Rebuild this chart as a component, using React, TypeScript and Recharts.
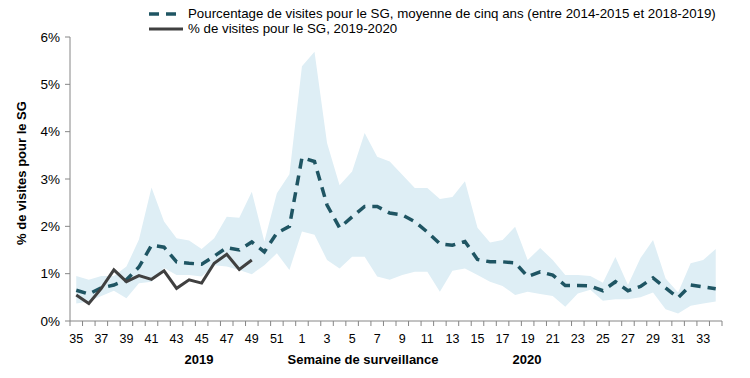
import React from "react";
import { ComposedChart, Area, Line, XAxis, YAxis } from "recharts";

const weeks = [
  "35", "36", "37", "38", "39", "40", "41", "42", "43", "44", "45", "46", "47", "48", "49", "50", "51", "52",
  "1", "2", "3", "4", "5", "6", "7", "8", "9", "10", "11", "12", "13", "14", "15", "16", "17",
  "18", "19", "20", "21", "22", "23", "24", "25", "26", "27", "28", "29", "30", "31", "32", "33", "34",
];

// moyenne de cinq ans (2014-2015 à 2018-2019)
const fiveYearAvg = [
  0.65, 0.57, 0.7, 0.76, 0.87, 1.14, 1.6, 1.56, 1.25, 1.22, 1.2, 1.37, 1.55, 1.5, 1.67, 1.46, 1.86, 2.0,
  3.45, 3.37, 2.45, 1.97, 2.2, 2.42, 2.42, 2.28, 2.24, 2.1, 1.88, 1.63, 1.6, 1.68, 1.3, 1.25, 1.25,
  1.23, 0.94, 1.04, 0.97, 0.75, 0.75, 0.74, 0.64, 0.83, 0.64, 0.73, 0.91, 0.7, 0.49, 0.76, 0.72, 0.68,
];

const rangeHigh = [
  0.95, 0.87, 0.95, 0.95, 1.15, 1.72, 2.82, 2.1, 1.75, 1.7, 1.52, 1.75, 2.2, 2.18, 2.73, 1.68, 2.7, 3.1,
  5.38, 5.69, 3.76, 2.87, 3.16, 3.97, 3.47, 3.37, 3.09, 2.81, 2.81, 2.58, 2.62, 2.95, 1.97, 1.66, 1.71,
  1.99, 1.29, 1.54, 1.29, 0.97, 0.97, 0.95, 0.81, 1.35, 0.76, 1.33, 1.71, 0.9, 0.6, 1.22, 1.29, 1.52,
];

const rangeLow = [
  0.37, 0.41, 0.53, 0.64, 0.48, 0.8, 0.83, 1.12, 0.97, 0.97, 0.94, 1.18, 1.15, 1.08, 0.99, 1.18, 1.43, 1.08,
  1.89, 1.82, 1.29, 1.11, 1.36, 1.36, 0.94, 0.87, 0.97, 1.04, 1.04, 0.62, 1.06, 1.11, 0.97, 0.83, 0.74,
  0.55, 0.62, 0.57, 0.53, 0.3, 0.58, 0.66, 0.43, 0.46, 0.46, 0.5, 0.6, 0.25, 0.16, 0.32, 0.37, 0.41,
];

// saison 2019-2020 (semaines 35 à 49)
const season2019 = [0.55, 0.37, 0.69, 1.08, 0.83, 0.96, 0.88, 1.06, 0.69, 0.87, 0.8, 1.22, 1.41, 1.09, 1.29];

const yTicks = [0, 1, 2, 3, 4, 5, 6];

const data = weeks.map((w, i) => ({
  week: w,
  avg: fiveYearAvg[i],
  low: rangeLow[i],
  high: rangeHigh[i],
  cur: i < season2019.length ? season2019[i] : null,
}));

const FONT = "'Liberation Sans', Arial, sans-serif";
const W = 750;
const H = 378;
const margin = { top: 37, right: 28, bottom: 10, left: 10 };
const Y_AXIS_W = 60;
const PLOT_W = W - margin.left - margin.right - Y_AXIS_W;
const HALF_BAND = PLOT_W / weeks.length / 2;

const AVG_COLOR = "#1f5563";
const CUR_COLOR = "#404040";
const BAND_COLOR = "#deeef5";

function WeekTick(props: any) {
  const { x, y, index } = props;
  const last = index === weeks.length - 1;
  return (
    <g>
      <line x1={x - HALF_BAND} x2={x - HALF_BAND} y1={y} y2={y + 5} stroke="#868686" />
      {last && <line x1={x + HALF_BAND} x2={x + HALF_BAND} y1={y} y2={y + 5} stroke="#868686" />}
      {index % 2 === 0 && (
        <text x={x} y={y + 22} textAnchor="middle" fontSize={12.5} fontFamily={FONT} fill="#000">
          {props.payload.value}
        </text>
      )}
    </g>
  );
}

function BottomLabels(props: any) {
  const { viewBox } = props;
  const y = viewBox.y + 43;
  const s = { fontSize: 13, fontWeight: 700, fontFamily: FONT, fill: "#000" } as const;
  return (
    <g>
      <text x={199} y={y} textAnchor="middle" {...s}>2019</text>
      <text x={363} y={y} textAnchor="middle" {...s}>Semaine de surveillance</text>
      <text x={527} y={y} textAnchor="middle" {...s}>2020</text>
    </g>
  );
}

function YLabel(props: any) {
  const { viewBox } = props;
  const cy = viewBox.y + viewBox.height / 2 - 6;
  return (
    <text
      x={21}
      y={cy}
      transform={`rotate(-90, 21, ${cy})`}
      textAnchor="middle"
      dominantBaseline="central"
      fontSize={13}
      fontWeight={700}
      fontFamily={FONT}
      fill="#000"
    >
      % de visites pour le SG
    </text>
  );
}

function Legend() {
  const row = { display: "flex", alignItems: "center", height: 15 } as const;
  return (
    <div
      style={{
        position: "absolute",
        left: 148,
        top: 6,
        fontFamily: FONT,
        fontSize: 13.3,
        color: "#000",
        lineHeight: "15px",
        whiteSpace: "nowrap",
      }}
    >
      <div style={row}>
        <svg width={38} height={15}>
          <line x1={1} x2={35} y1={8} y2={8} stroke={AVG_COLOR} strokeWidth={3.5} strokeDasharray="10 7" />
        </svg>
        <span style={{ marginLeft: 2 }}>
          Pourcentage de visites pour le SG, moyenne de cinq ans (entre 2014-2015 et 2018-2019)
        </span>
      </div>
      <div style={row}>
        <svg width={38} height={15}>
          <line x1={1} x2={35} y1={8} y2={8} stroke={CUR_COLOR} strokeWidth={3} />
        </svg>
        <span style={{ marginLeft: 2 }}>% de visites pour le SG, 2019-2020</span>
      </div>
    </div>
  );
}

export default function App() {
  return (
    <div style={{ position: "absolute", left: 0, top: 0, width: W, height: H, background: "#fff" }}>
      <ComposedChart width={W} height={H} data={data} margin={margin}>
        <XAxis
          dataKey="week"
          scale="band"
          interval={0}
          tickLine={false}
          tickSize={0}
          tickMargin={0}
          stroke="#868686"
          height={H - 321 - margin.bottom}
          tick={<WeekTick />}
          label={<BottomLabels />}
        />
        <YAxis
          width={Y_AXIS_W}
          domain={[0, 6]}
          ticks={yTicks}
          tickFormatter={(v: number) => `${v}%`}
          stroke="#868686"
          tickSize={5}
          tickMargin={5}
          tick={{ fontSize: 13.5, fill: "#000", fontFamily: FONT }}
          label={<YLabel />}
        />
        <Area
          dataKey={(d: any) => [d.low, d.high]}
          stroke="none"
          fill={BAND_COLOR}
          fillOpacity={1}
          type="linear"
          isAnimationActive={false}
          activeDot={false}
        />
        <Line
          dataKey="avg"
          type="linear"
          stroke={AVG_COLOR}
          strokeWidth={3.5}
          strokeDasharray="10 7"
          dot={false}
          activeDot={false}
          isAnimationActive={false}
        />
        <Line
          dataKey="cur"
          type="linear"
          stroke={CUR_COLOR}
          strokeWidth={3}
          dot={false}
          activeDot={false}
          connectNulls={false}
          isAnimationActive={false}
        />
      </ComposedChart>
      <Legend />
    </div>
  );
}
